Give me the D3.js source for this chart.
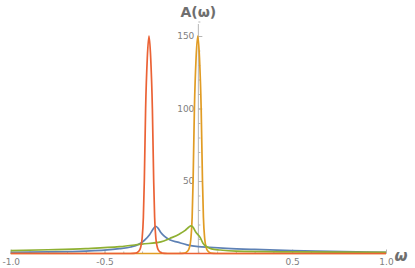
<!DOCTYPE html>
<html>
<head>
<meta charset="utf-8">
<script src="https://cdn.jsdelivr.net/npm/d3@7"></script>
<style>
  body { margin: 0; background: #fff; }
  svg { display: block; }
</style>
</head>
<body>
<svg id="chart" width="415" height="268"></svg>
<script>
// values: omega -> A(omega)
const blueW = [-1.0, -0.8, -0.6, -0.5, -0.42, -0.36, -0.32, -0.29, -0.26, -0.24, -0.228, -0.215, -0.2, -0.18, -0.15, -0.11, -0.06, 0.0, 0.06, 0.15, 0.3, 0.5, 0.7, 0.85, 1.0];
const blueA = [0.8, 1.1, 1.7, 2.3, 3.3, 4.5, 6.2, 8.8, 13, 17, 18.8, 17.5, 14.5, 11.8, 9.3, 7.8, 6.0, 4.8, 4.3, 3.6, 2.8, 2.0, 1.5, 1.1, 0.8];

const orangeW = [-1.0, -0.2, -0.103, -0.073, -0.058, -0.048, -0.04, -0.033, -0.028, -0.021, -0.012, -0.003, 0.006, 0.015, 0.022, 0.027, 0.034, 0.042, 0.052, 0.067, 0.097, 1.0];
const orangeA = [0, 0, 0, 0.3, 1.5, 4, 10, 25, 50, 100, 135, 150, 135, 100, 50, 25, 10, 4, 1.5, 0.3, 0, 0];

const greenW = [-1.0, -0.8, -0.6, -0.42, -0.3, -0.2, -0.15, -0.1, -0.07, -0.05, -0.04, -0.03, -0.015, 0.01, 0.025, 0.045, 0.07, 0.116, 0.2, 0.5, 1.0];
const greenA = [2.0, 2.6, 3.4, 4.7, 6.5, 8.0, 10.5, 13.5, 16, 18.3, 19, 18.4, 15, 11, 7, 4.7, 3.2, 2.4, 1.6, 1.1, 0.8];

const redW = [-1.0, -0.4, -0.363, -0.333, -0.318, -0.308, -0.3, -0.293, -0.288, -0.281, -0.272, -0.263, -0.254, -0.245, -0.238, -0.233, -0.226, -0.218, -0.208, -0.193, -0.163, 1.0];
const redA = [0, 0, 0, 0.3, 1.5, 4, 10, 25, 50, 100, 135, 150, 135, 100, 50, 25, 10, 4, 1.5, 0.3, 0, 0];

const xTicks = [-1, -0.5, 0.5, 1];
const yTicks = [50, 100, 150];

const series = [
  { w: blueW, a: blueA, color: "#5e81b5" },
  { w: orangeW, a: orangeA, color: "#e19c24" },
  { w: greenW, a: greenA, color: "#8fb032" },
  { w: redW, a: redA, color: "#eb6235" },
];

const svg = d3.select("#chart");
const x = d3.scaleLinear().domain([-1, 1]).range([10.7, 386]);
const y = d3.scaleLinear().domain([0, 150]).range([253.5, 36]);

const axisColor = "#b5b5b5";
const labelColor = "#808080";

// x axis
const xMinor = svg.append("g").attr("transform", `translate(0,${y(0)})`)
  .call(d3.axisBottom(x).tickValues(d3.range(-1, 1.001, 0.1)).tickSize(-2).tickFormat(""));
const xAxis = svg.append("g").attr("transform", `translate(0,${y(0)})`)
  .call(d3.axisBottom(x).tickValues(xTicks).tickSize(-4).tickPadding(5)
    .tickFormat((d) => d3.format(".1f")(d).replace("−", "-")));

// y axis
const yMinor = svg.append("g").attr("transform", `translate(${x(0)},0)`)
  .call(d3.axisLeft(y).tickValues(d3.range(10, 161, 10)).tickSize(-2).tickFormat(""));
const yAxis = svg.append("g").attr("transform", `translate(${x(0)},0)`)
  .call(d3.axisLeft(y).tickValues(yTicks).tickSize(-4).tickPadding(4));

[xMinor, xAxis, yMinor, yAxis].forEach((g) => {
  g.select(".domain").remove();
  g.selectAll("line").attr("stroke", axisColor).attr("stroke-width", 1);
  g.selectAll("text").attr("fill", labelColor).attr("font-family", "DejaVu Sans, sans-serif").attr("font-size", 9);
});

svg.append("line")
  .attr("x1", x(-1)).attr("x2", x(1)).attr("y1", y(0)).attr("y2", y(0))
  .attr("stroke", axisColor).attr("stroke-width", 1);
svg.append("line")
  .attr("x1", x(0)).attr("x2", x(0)).attr("y1", y(0)).attr("y2", 24)
  .attr("stroke", axisColor).attr("stroke-width", 1);

// curves
const line = d3.line()
  .x((d) => x(d[0]))
  .y((d) => y(d[1]))
  .curve(d3.curveMonotoneX);

series.forEach((s) => {
  svg.append("path")
    .datum(s.w.map((w, i) => [w, s.a[i]]))
    .attr("fill", "none")
    .attr("stroke", s.color)
    .attr("stroke-width", 1.7)
    .attr("stroke-linejoin", "round")
    .attr("d", line);
});

// axis labels
svg.append("text")
  .attr("x", x(0)).attr("y", 17)
  .attr("text-anchor", "middle")
  .attr("fill", "#6e6e6e")
  .attr("font-family", "DejaVu Sans, sans-serif")
  .attr("font-size", 14)
  .attr("font-weight", "bold")
  .text("A(ω)");

svg.append("text")
  .attr("x", 401).attr("y", 261)
  .attr("text-anchor", "middle")
  .attr("fill", "#6e6e6e")
  .attr("font-family", "DejaVu Sans, sans-serif")
  .attr("font-size", 15)
  .attr("font-weight", "bold")
  .attr("font-style", "italic")
  .text("ω");
</script>
</body>
</html>
